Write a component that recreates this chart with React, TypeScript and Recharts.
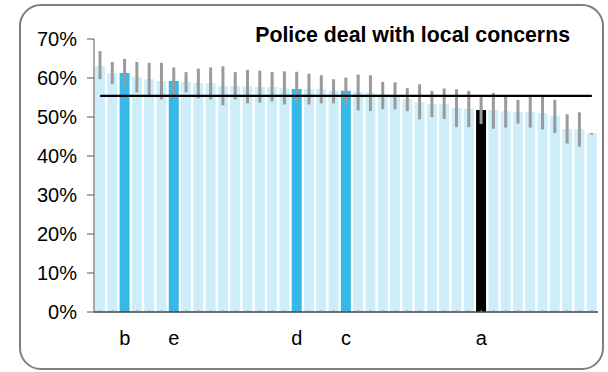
import React from "react";
import { BarChart, Bar, XAxis, YAxis, ErrorBar, Cell, ReferenceLine } from "recharts";

const labels = ["", "", "b", "", "", "", "e", "", "", "", "", "", "", "", "", "", "d", "", "", "", "c", "", "", "", "", "", "", "", "", "", "", "a", "", "", "", "", "", "", "", "", ""];
const values = [63.1, 61.3, 61.3, 60.3, 59.7, 59.2, 59.2, 59.0, 58.7, 58.7, 57.9, 57.9, 57.9, 57.7, 57.7, 57.4, 57.2, 57.2, 57.2, 56.7, 56.7, 56.4, 56.2, 55.9, 55.6, 54.6, 53.8, 53.3, 53.3, 52.3, 52.1, 51.8, 51.8, 51.5, 51.3, 51.3, 51.0, 50.3, 46.9, 46.9, 45.9];
const lower = [59.7, 58.5, 57.5, 56.3, 55.5, 54.5, 55.5, 56.3, 54.8, 54.5, 53.0, 54.5, 53.5, 53.7, 54.0, 53.2, 53.7, 53.2, 53.5, 53.5, 53.0, 51.7, 51.5, 52.0, 52.0, 51.5, 49.4, 50.0, 49.5, 47.4, 47.4, 48.2, 47.0, 47.3, 48.3, 47.3, 46.8, 45.9, 43.2, 42.4, 45.5];
const upper = [66.9, 64.1, 64.9, 64.1, 63.9, 63.9, 62.7, 61.5, 62.4, 62.7, 63.0, 61.5, 62.1, 61.9, 61.5, 61.7, 61.6, 61.1, 60.7, 59.7, 60.1, 60.9, 60.7, 59.0, 58.9, 57.4, 58.4, 56.7, 57.3, 57.1, 56.7, 55.2, 56.2, 55.2, 54.4, 55.2, 55.2, 54.4, 50.7, 51.2, 45.9];
const average = 55.4;
const yTicks = [0, 10, 20, 30, 40, 50, 60, 70];
const title = "Police deal with local concerns";

const data = values.map((v, i) => ({
  id: String(i),
  label: labels[i],
  value: v,
  err: [v - lower[i], upper[i] - v],
}));

const FONT = '"Liberation Sans", Arial, sans-serif';

function colorFor(label: string) {
  if (label === "a") return "#000000";
  if (label) return "#35B9E9";
  return "#CDEDF9";
}

export default function App() {
  return (
    <div style={{ position: "absolute", left: 0, top: 0, width: 608, height: 372, background: "#fff", fontFamily: FONT }}>
      <div
        style={{
          position: "absolute",
          left: 19,
          top: 4,
          width: 585,
          height: 366,
          boxSizing: "border-box",
          border: "2px solid #7f7f7f",
          borderRadius: 22,
        }}
      />
      <div style={{ position: "absolute", left: 0, top: 0 }}>
        <BarChart
          width={608}
          height={372}
          data={data}
          margin={{ top: 39, right: 10, bottom: 20, left: 0 }}
          barCategoryGap={2}
        >
          <XAxis
            dataKey="id"
            tickFormatter={(v: string) => labels[Number(v)]}
            interval={0}
            height={40}
            axisLine={{ stroke: "#404040", strokeWidth: 1.5 }}
            tickLine={{ stroke: "#888", strokeWidth: 1 }}
            tickSize={-2}
            tickMargin={21}
            tick={{ fill: "#000", fontSize: 20, fontFamily: FONT }}
          />
          <YAxis
            domain={[0, 70]}
            ticks={yTicks}
            width={94}
            tickFormatter={(v: number) => `${v}%`}
            axisLine={{ stroke: "#555", strokeWidth: 1 }}
            tickLine={{ stroke: "#555", strokeWidth: 1 }}
            tickSize={7}
            tickMargin={10}
            tick={{ fill: "#000", fontSize: 20, fontFamily: FONT }}
          />
          <Bar dataKey="value" isAnimationActive={false} barSize={10}>
            {data.map((d, i) => (
              <Cell key={i} fill={colorFor(d.label)} />
            ))}
            <ErrorBar dataKey="err" direction="y" width={0} stroke="#9a9a9a" strokeWidth={3} isAnimationActive={false} />
          </Bar>
          <ReferenceLine
            segment={[
              { x: data[0].id, y: average },
              { x: data[data.length - 1].id, y: average },
            ]}
            stroke="#000"
            strokeWidth={2.2}
          />
        </BarChart>
      </div>
      <div
        style={{
          position: "absolute",
          left: 0,
          top: 25,
          width: 570,
          textAlign: "right",
          fontSize: 21.3,
          lineHeight: "21px",
          fontWeight: "bold",
          fontFamily: FONT,
          color: "#000",
          whiteSpace: "nowrap",
        }}
      >
        {title}
      </div>
    </div>
  );
}
